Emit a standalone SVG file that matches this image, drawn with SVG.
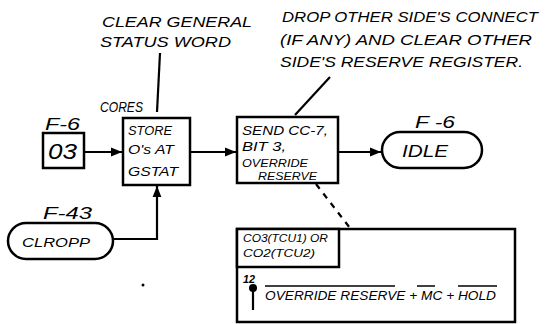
<svg xmlns="http://www.w3.org/2000/svg" width="554" height="324" viewBox="0 0 554 324">
<defs>
<marker id="ah" viewBox="0 0 10 10" refX="10" refY="5" markerWidth="5" markerHeight="5" orient="auto" markerUnits="strokeWidth">
<path d="M0,1 L10,5 L0,9 Z" fill="#000"/>
</marker>
<style>
.t{font-family:"Liberation Sans",Arial,sans-serif;font-style:italic;fill:#000}
.box{fill:#fff;stroke:#000;stroke-width:2.5}
.ln{fill:none;stroke:#000;stroke-width:2.2}
</style>
</defs>
<rect width="554" height="324" fill="#fff"/>
<g id="connectors">
<line class="ln" x1="84" y1="152" x2="122" y2="152" marker-end="url(#ah)"/>
<line class="ln" x1="190" y1="152" x2="236" y2="152" marker-end="url(#ah)"/>
<line class="ln" x1="338" y1="152" x2="381" y2="152" marker-end="url(#ah)"/>
<polyline class="ln" points="113,239 157,239 157,186" marker-end="url(#ah)"/>
<line class="ln" x1="160" y1="53" x2="157" y2="112"/>
<line class="ln" x1="330" y1="77" x2="295" y2="115"/>
<line class="ln" x1="316" y1="184" x2="350" y2="228" stroke-dasharray="6,6"/>
</g>
<g id="note-clear">
<text class="t" x="102" y="27" font-size="15" textLength="150" lengthAdjust="spacingAndGlyphs">CLEAR GENERAL</text>
<text class="t" x="100" y="47" font-size="15" textLength="131" lengthAdjust="spacingAndGlyphs">STATUS  WORD</text>
</g>
<g id="note-drop">
<text class="t" x="282" y="22" font-size="14" textLength="256" lengthAdjust="spacingAndGlyphs">DROP OTHER SIDE'S  CONNECT</text>
<text class="t" x="280" y="45" font-size="14" textLength="252" lengthAdjust="spacingAndGlyphs">(IF ANY) AND CLEAR OTHER</text>
<text class="t" x="280" y="67" font-size="14" textLength="243" lengthAdjust="spacingAndGlyphs">SIDE'S  RESERVE REGISTER.</text>
</g>
<g id="node-03">
<text class="t" x="45" y="130" font-size="17" textLength="35" lengthAdjust="spacingAndGlyphs">F-6</text>
<rect class="box" x="43" y="133" width="41" height="35"/>
<text class="t" x="48" y="159" font-size="22" textLength="29" lengthAdjust="spacingAndGlyphs" font-style="normal">03</text>
</g>
<g id="node-store">
<text class="t" x="100" y="112" font-size="14" textLength="43" lengthAdjust="spacingAndGlyphs">CORES</text>
<rect class="box" x="123" y="118" width="67" height="67"/>
<text class="t" x="128" y="135" font-size="12" textLength="44" lengthAdjust="spacingAndGlyphs">STORE</text>
<text class="t" x="128" y="154" font-size="12" textLength="46" lengthAdjust="spacingAndGlyphs">O's AT</text>
<text class="t" x="128" y="176" font-size="12" textLength="50" lengthAdjust="spacingAndGlyphs">GSTAT</text>
</g>
<g id="node-send">
<rect class="box" x="237" y="117" width="101" height="66"/>
<text class="t" x="242" y="135" font-size="12" textLength="86" lengthAdjust="spacingAndGlyphs">SEND CC-7,</text>
<text class="t" x="242" y="151" font-size="12" textLength="44" lengthAdjust="spacingAndGlyphs">BIT 3,</text>
<text class="t" x="242" y="167" font-size="10" textLength="66" lengthAdjust="spacingAndGlyphs">OVERRIDE</text>
<text class="t" x="258" y="180" font-size="10" textLength="59" lengthAdjust="spacingAndGlyphs">RESERVE</text>
</g>
<g id="node-idle">
<text class="t" x="415" y="128" font-size="17" textLength="40" lengthAdjust="spacingAndGlyphs">F -6</text>
<rect class="box" x="382" y="132" width="100" height="36" rx="18" ry="18"/>
<text class="t" x="402" y="157" font-size="16" textLength="46" lengthAdjust="spacingAndGlyphs">IDLE</text>
</g>
<g id="node-clropp">
<text class="t" x="43" y="219" font-size="17" textLength="49" lengthAdjust="spacingAndGlyphs">F-43</text>
<rect class="box" x="8" y="223" width="105" height="36" rx="18" ry="18"/>
<text class="t" x="22" y="247" font-size="13" textLength="68" lengthAdjust="spacingAndGlyphs">CLROPP</text>
</g>
<g id="node-logic">
<rect class="box" x="237" y="229" width="278" height="93"/>
<rect class="box" x="237" y="229" width="102" height="38" fill="none"/>
<text class="t" x="243" y="242" font-size="10" textLength="85" lengthAdjust="spacingAndGlyphs">CO3(TCU1) OR</text>
<text class="t" x="243" y="257" font-size="10" textLength="72" lengthAdjust="spacingAndGlyphs">CO2(TCU2)</text>
<text class="t" x="243" y="283" font-size="10" textLength="12" lengthAdjust="spacingAndGlyphs" font-weight="bold">12</text>
<circle cx="253" cy="288" r="4" fill="#000"/>
<line class="ln" x1="253" y1="288" x2="253" y2="310"/>
<text class="t" x="265" y="300" font-size="12" textLength="231" lengthAdjust="spacingAndGlyphs">OVERRIDE RESERVE + MC + HOLD</text>
<line x1="265" y1="286" x2="395" y2="286" stroke="#000" stroke-width="1.5"/>
<line x1="417" y1="286" x2="435" y2="286" stroke="#000" stroke-width="1.5"/>
<line x1="458" y1="286" x2="497" y2="286" stroke="#000" stroke-width="1.5"/>
</g>
<circle cx="143" cy="285" r="1.5" fill="#000"/>
</svg>
